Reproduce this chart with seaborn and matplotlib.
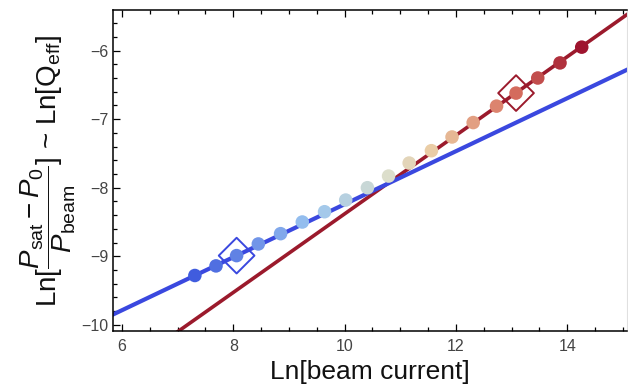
import numpy as np
import pandas as pd
import matplotlib
matplotlib.use("Agg")
import matplotlib.pyplot as plt
import seaborn as sns
from matplotlib.colors import LinearSegmentedColormap
from matplotlib.ticker import MultipleLocator

# ---- data ----
ln_current = [7.31, 7.69, 8.06, 8.45, 8.85, 9.24, 9.64, 10.02, 10.41, 10.79,
              11.16, 11.56, 11.93, 12.31, 12.73, 13.08, 13.47, 13.87, 14.26]
ln_q = [-9.28, -9.14, -8.99, -8.82, -8.67, -8.50, -8.35, -8.18, -8.00, -7.83,
        -7.64, -7.46, -7.26, -7.05, -6.81, -6.62, -6.40, -6.18, -5.95]
order = list(range(len(ln_current)))

blue_fit_x = [5.5, 15.5]
blue_fit_y = [-9.98, -6.115]
red_fit_x = [5.5, 15.5]
red_fit_y = [-10.96, -5.23]

blue_mark_x = [8.06]
blue_mark_y = [-8.99]
red_mark_x = [13.08]
red_mark_y = [-6.62]

x_ticks = [6, 8, 10, 12, 14]
y_ticks = [-10, -9, -8, -7, -6]

# ---- style ----
sns.set_theme(style="white")
plt.rcParams['font.family'] = ['Liberation Sans', 'DejaVu Sans']
plt.rcParams['mathtext.fontset'] = 'custom'
plt.rcParams['mathtext.rm'] = 'Liberation Sans'
plt.rcParams['mathtext.it'] = 'Liberation Sans:italic'
plt.rcParams['mathtext.bf'] = 'Liberation Sans:bold'

BLUE = '#3a48df'
RED = '#9b1a2c'

cmap = LinearSegmentedColormap.from_list(
    "temp",
    [(0.0, (0.25, 0.36, 0.87)),
     (0.3, (0.60, 0.77, 0.94)),
     (0.5, (0.86, 0.87, 0.80)),
     (0.62, (0.92, 0.80, 0.64)),
     (0.82, (0.85, 0.45, 0.38)),
     (1.0, (0.62, 0.08, 0.18))])

fig = plt.figure(figsize=(6.28, 3.89), dpi=100)
ax = fig.add_axes([0.180, 0.149, 0.819, 0.825])

pts = pd.DataFrame({"x": ln_current, "y": ln_q, "k": order})
blue_df = pd.DataFrame({"x": blue_fit_x, "y": blue_fit_y})
red_df = pd.DataFrame({"x": red_fit_x, "y": red_fit_y})

sns.lineplot(data=red_df, x="x", y="y", color=RED, lw=2.6, ax=ax, zorder=2)
sns.lineplot(data=blue_df, x="x", y="y", color=BLUE, lw=3.0, ax=ax, zorder=2)
sns.scatterplot(data=pts, x="x", y="y", hue="k", palette=cmap, s=95,
                edgecolor='none', legend=False, ax=ax, zorder=3)
ax.scatter(blue_mark_x, blue_mark_y, marker='D', s=330, facecolors='none',
           edgecolors=BLUE, linewidths=1.4, zorder=4)
ax.scatter(red_mark_x, red_mark_y, marker='D', s=330, facecolors='none',
           edgecolors=RED, linewidths=1.4, zorder=4)

ax.set_xlim(5.84, 15.08)
ax.set_ylim(-10.09, -5.41)
ax.set_xticks(x_ticks)
ax.set_yticks(y_ticks)
ax.set_yticklabels([f"\u2212{abs(v)}" for v in y_ticks])
ax.xaxis.set_minor_locator(MultipleLocator(0.5))
ax.yaxis.set_minor_locator(MultipleLocator(0.2))
ax.tick_params(which='both', direction='in', top=True, bottom=True,
               left=True, right=False, colors='black', labelcolor='#444444',
               labelsize=11.5, width=0.9)
ax.tick_params(which='major', length=5)
ax.tick_params(which='minor', length=3)
ax.tick_params(axis='x', pad=6)
ax.tick_params(axis='y', pad=3)

for side in ['left', 'bottom', 'top']:
    ax.spines[side].set_color('black')
    ax.spines[side].set_linewidth(1.1)
ax.spines['right'].set_color('#e0e0e0')
ax.spines['right'].set_linewidth(0.8)

ax.set_xlabel("Ln[beam current]", fontsize=19, color='#111111', labelpad=4)
ax.set_ylabel(r"Ln[$\dfrac{P_{\mathrm{sat}} - P_0}{P_{\mathrm{beam}}}$] ~ Ln[Q$_{\mathrm{eff}}$]",
              fontsize=20, color='#111111', labelpad=3)

fig.savefig("out.png", dpi=100)
